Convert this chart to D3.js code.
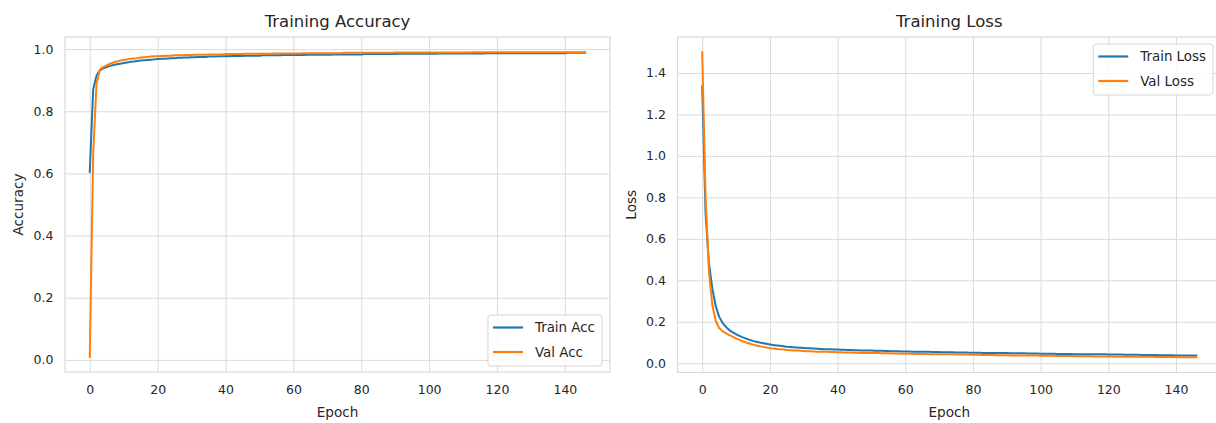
<!DOCTYPE html>
<html>
<head>
<meta charset="utf-8">
<script src="https://cdn.jsdelivr.net/npm/d3@7"></script>
<style>
  body { margin: 0; background: #fff; }
  svg { font-family: "DejaVu Sans", sans-serif; }
</style>
</head>
<body>
<div id="viz"></div>
<script>
const width = 1216;
const height = 423;

// values, one per epoch (0..146)
const trainAcc = [
  0.605,0.870,0.915,0.932,0.938,0.942,0.946,0.949,0.951,0.953,
  0.955,0.957,0.959,0.960,0.962,0.963,0.964,0.965,0.966,0.967,
  0.968,0.969,0.969,0.970,0.971,0.971,0.972,0.972,0.973,0.973,
  0.974,0.974,0.975,0.975,0.975,0.976,0.976,0.976,0.977,0.977,
  0.977,0.977,0.978,0.978,0.978,0.978,0.979,0.979,0.979,0.979,
  0.979,0.980,0.980,0.980,0.980,0.980,0.980,0.981,0.981,0.981,
  0.981,0.981,0.981,0.981,0.982,0.982,0.982,0.982,0.982,0.982,
  0.982,0.982,0.983,0.983,0.983,0.983,0.983,0.983,0.983,0.983,
  0.983,0.984,0.984,0.984,0.984,0.984,0.984,0.984,0.984,0.984,
  0.984,0.985,0.985,0.985,0.985,0.985,0.985,0.985,0.985,0.985,
  0.985,0.985,0.985,0.986,0.986,0.986,0.986,0.986,0.986,0.986,
  0.986,0.986,0.986,0.986,0.986,0.986,0.986,0.987,0.987,0.987,
  0.987,0.987,0.987,0.987,0.987,0.987,0.987,0.987,0.987,0.987,
  0.987,0.987,0.987,0.987,0.987,0.987,0.987,0.987,0.987,0.987,
  0.987,0.988,0.988,0.988,0.988,0.988,0.988
];
const valAcc = [
  0.010,0.660,0.890,0.935,0.942,0.948,0.953,0.957,0.960,0.963,
  0.965,0.967,0.969,0.970,0.971,0.973,0.974,0.975,0.976,0.977,
  0.977,0.978,0.978,0.979,0.979,0.980,0.980,0.980,0.981,0.981,
  0.981,0.982,0.982,0.982,0.982,0.983,0.983,0.983,0.983,0.983,
  0.984,0.984,0.984,0.984,0.984,0.984,0.985,0.985,0.985,0.985,
  0.985,0.985,0.985,0.985,0.986,0.986,0.986,0.986,0.986,0.986,
  0.986,0.986,0.986,0.987,0.987,0.987,0.987,0.987,0.987,0.987,
  0.987,0.987,0.987,0.987,0.987,0.988,0.988,0.988,0.988,0.988,
  0.988,0.988,0.988,0.988,0.988,0.988,0.988,0.988,0.988,0.988,
  0.989,0.989,0.989,0.989,0.989,0.989,0.989,0.989,0.989,0.989,
  0.989,0.989,0.989,0.989,0.989,0.989,0.989,0.989,0.989,0.989,
  0.989,0.989,0.989,0.990,0.990,0.990,0.990,0.990,0.990,0.990,
  0.990,0.990,0.990,0.990,0.990,0.990,0.990,0.990,0.990,0.990,
  0.990,0.990,0.990,0.990,0.990,0.990,0.990,0.990,0.990,0.990,
  0.990,0.990,0.990,0.990,0.990,0.990,0.990
];
const trainLoss = [
  1.335,0.720,0.480,0.360,0.275,0.225,0.195,0.175,0.160,0.149,
  0.140,0.132,0.125,0.119,0.113,0.108,0.104,0.100,0.097,0.094,
  0.091,0.088,0.086,0.084,0.082,0.080,0.079,0.077,0.076,0.075,
  0.074,0.073,0.072,0.071,0.070,0.069,0.068,0.068,0.067,0.066,
  0.066,0.065,0.065,0.064,0.064,0.063,0.063,0.062,0.062,0.061,
  0.061,0.060,0.060,0.060,0.059,0.059,0.058,0.058,0.058,0.057,
  0.057,0.057,0.056,0.056,0.056,0.055,0.055,0.055,0.054,0.054,
  0.054,0.053,0.053,0.053,0.053,0.052,0.052,0.052,0.052,0.051,
  0.051,0.051,0.051,0.050,0.050,0.050,0.050,0.049,0.049,0.049,
  0.049,0.048,0.048,0.048,0.048,0.048,0.047,0.047,0.047,0.047,
  0.046,0.046,0.046,0.046,0.046,0.045,0.045,0.045,0.045,0.045,
  0.044,0.044,0.044,0.044,0.044,0.043,0.043,0.043,0.043,0.043,
  0.042,0.042,0.042,0.042,0.042,0.041,0.041,0.041,0.041,0.041,
  0.040,0.040,0.040,0.040,0.040,0.039,0.039,0.039,0.039,0.039,
  0.038,0.038,0.038,0.038,0.038,0.038,0.038
];
const valLoss = [
  1.500,0.800,0.440,0.280,0.205,0.170,0.155,0.145,0.136,0.128,
  0.120,0.113,0.106,0.100,0.095,0.090,0.086,0.082,0.079,0.076,
  0.073,0.071,0.069,0.067,0.066,0.064,0.063,0.062,0.061,0.060,
  0.059,0.058,0.058,0.057,0.056,0.056,0.055,0.055,0.054,0.054,
  0.053,0.053,0.052,0.052,0.052,0.051,0.051,0.050,0.050,0.050,
  0.049,0.049,0.049,0.048,0.048,0.048,0.047,0.047,0.047,0.046,
  0.046,0.046,0.046,0.045,0.045,0.045,0.045,0.044,0.044,0.044,
  0.044,0.043,0.043,0.043,0.043,0.042,0.042,0.042,0.042,0.041,
  0.041,0.041,0.041,0.040,0.040,0.040,0.040,0.039,0.039,0.039,
  0.039,0.038,0.038,0.038,0.038,0.037,0.037,0.037,0.037,0.037,
  0.036,0.036,0.036,0.036,0.036,0.035,0.035,0.035,0.035,0.035,
  0.034,0.034,0.034,0.034,0.034,0.034,0.033,0.033,0.033,0.033,
  0.033,0.033,0.032,0.032,0.032,0.032,0.032,0.032,0.031,0.031,
  0.031,0.031,0.031,0.031,0.030,0.030,0.030,0.030,0.030,0.030,
  0.030,0.029,0.029,0.029,0.029,0.029,0.029
];

const xTicks = [0, 20, 40, 60, 80, 100, 120, 140];
const accTicks = [0.0, 0.2, 0.4, 0.6, 0.8, 1.0];
const lossTicks = [0.0, 0.2, 0.4, 0.6, 0.8, 1.0, 1.2, 1.4];

const blue = '#1f77b4';
const orange = '#ff7f0e';
const gridColor = '#dadada';
const textColor = '#262626';

const svg = d3.select('#viz')
  .append('svg')
    .attr('width', width)
    .attr('height', height);

// one subplot, matplotlib style (5% data margins)
const drawPanel = (cfg) => {
  const { box, series, yTicks, title, yLabel, legendPos } = cfg;
  const n = series[0].values.length;

  const xPad = (n - 1) * 0.05;
  const scaleX = d3.scaleLinear()
    .domain([-xPad, n - 1 + xPad])
    .range([box.left, box.right]);

  const allY = series.flatMap(s => s.values);
  const yMin = d3.min(allY), yMax = d3.max(allY);
  const yPad = (yMax - yMin) * 0.05;
  const scaleY = d3.scaleLinear()
    .domain([yMin - yPad, yMax + yPad])
    .range([box.bottom, box.top]);

  const g = svg.append('g');

  // x grid + tick labels
  g.append('g')
    .attr('transform', `translate(0,${box.bottom})`)
    .call(d3.axisBottom(scaleX)
      .tickValues(xTicks)
      .tickFormat(d3.format('d'))
      .tickSize(-(box.bottom - box.top))
      .tickPadding(13))
    .call(a => a.select('.domain').remove())
    .call(a => a.selectAll('line').attr('stroke', gridColor).attr('stroke-width', 1))
    .call(a => a.selectAll('text')
      .attr('fill', textColor)
      .style('font-size', '12.5px')
      .style('font-family', '"DejaVu Sans", sans-serif'));

  // y grid + tick labels
  g.append('g')
    .attr('transform', `translate(${box.left},0)`)
    .call(d3.axisLeft(scaleY)
      .tickValues(yTicks)
      .tickFormat(d3.format('.1f'))
      .tickSize(-(box.right - box.left))
      .tickPadding(11.5))
    .call(a => a.select('.domain').remove())
    .call(a => a.selectAll('line').attr('stroke', gridColor).attr('stroke-width', 1))
    .call(a => a.selectAll('text')
      .attr('fill', textColor)
      .style('font-size', '12.5px')
      .style('font-family', '"DejaVu Sans", sans-serif'));

  // frame
  g.append('rect')
    .attr('x', box.left)
    .attr('y', box.top)
    .attr('width', box.right - box.left)
    .attr('height', box.bottom - box.top)
    .attr('fill', 'none')
    .attr('stroke', gridColor)
    .attr('stroke-width', 1.2);

  // lines
  const line = d3.line()
    .x((d, i) => scaleX(i))
    .y(d => scaleY(d));

  g.append('g')
    .selectAll('path')
    .data(series)
    .join('path')
      .attr('d', d => line(d.values))
      .attr('fill', 'none')
      .attr('stroke', d => d.color)
      .attr('stroke-width', 2)
      .attr('stroke-linejoin', 'round')
      .attr('stroke-linecap', 'square');

  // title and axis labels
  const cx = (box.left + box.right) / 2;
  g.append('text')
    .attr('x', cx)
    .attr('y', 27)
    .attr('text-anchor', 'middle')
    .attr('fill', textColor)
    .style('font-size', '16.5px')
    .text(title);

  g.append('text')
    .attr('x', cx)
    .attr('y', 416.5)
    .attr('text-anchor', 'middle')
    .attr('fill', textColor)
    .style('font-size', '13.6px')
    .text('Epoch');

  g.append('text')
    .attr('transform', `translate(${cfg.yLabelX}, ${(box.top + box.bottom) / 2}) rotate(-90)`)
    .attr('text-anchor', 'middle')
    .attr('fill', textColor)
    .style('font-size', '13.6px')
    .text(yLabel);

  // legend
  const legend = g.append('g');
  const legendBox = legend.append('rect')
    .attr('rx', 3)
    .attr('fill', 'rgba(255,255,255,0.85)')
    .attr('stroke', '#d6d6d6')
    .attr('stroke-width', 1);

  const items = legend.selectAll('g.item')
    .data(series)
    .join('g')
      .attr('class', 'item')
      .attr('transform', (d, i) => `translate(0,${i * 24.5})`);
  items.append('line')
    .attr('x1', 5).attr('x2', 35)
    .attr('y1', 0).attr('y2', 0)
    .attr('stroke', d => d.color)
    .attr('stroke-width', 2.2);
  items.append('text')
    .attr('x', 47)
    .attr('y', 0)
    .attr('dy', '0.36em')
    .attr('fill', textColor)
    .style('font-size', '13.4px')
    .text(d => d.label);

  const textW = d3.max(items.selectAll('text').nodes(), nd => nd.getComputedTextLength());
  const lw = 47 + textW + 7;
  const lh = 51;
  legendBox
    .attr('x', 0).attr('y', -12.5)
    .attr('width', lw).attr('height', lh);

  const lx = box.right - 8 - lw;
  const ly = legendPos === 'lower right' ? box.bottom - 6 - lh + 12.5 : box.top + 7 + 12.5;
  legend.attr('transform', `translate(${lx},${ly})`);
};

drawPanel({
  box: { left: 65, right: 610, top: 37, bottom: 372 },
  series: [
    { label: 'Train Acc', values: trainAcc, color: blue },
    { label: 'Val Acc', values: valAcc, color: orange }
  ],
  yTicks: accTicks,
  title: 'Training Accuracy',
  yLabel: 'Accuracy',
  yLabelX: 22.5,
  legendPos: 'lower right'
});

drawPanel({
  box: { left: 677.5, right: 1221, top: 37, bottom: 372.5 },
  series: [
    { label: 'Train Loss', values: trainLoss, color: blue },
    { label: 'Val Loss', values: valLoss, color: orange }
  ],
  yTicks: lossTicks,
  title: 'Training Loss',
  yLabel: 'Loss',
  yLabelX: 636,
  legendPos: 'upper right'
});
</script>
</body>
</html>
